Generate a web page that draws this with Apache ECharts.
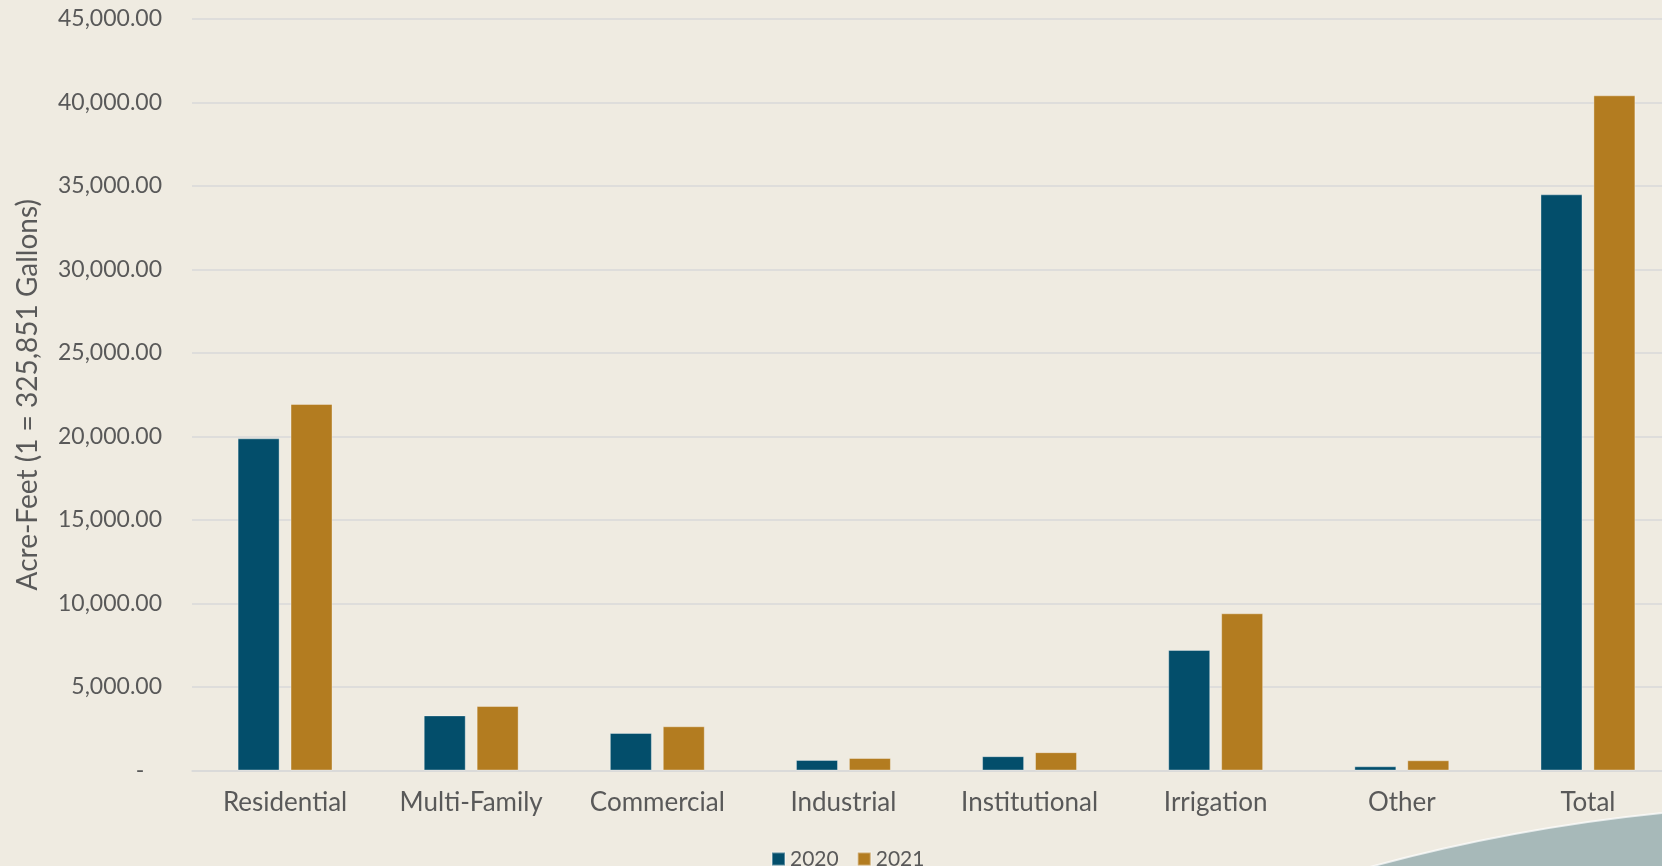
<!DOCTYPE html>
<html>
<head>
<meta charset="utf-8">
<script src="https://cdn.jsdelivr.net/npm/echarts@6/dist/echarts.min.js"></script>
<style>
html,body{margin:0;padding:0;background:#efebe1;}
#chart{width:1662px;height:866px;}
</style>
</head>
<body>
<div id="chart"></div>
<script>
const categories = ['Residential','Multi-Family','Commercial','Industrial','Institutional','Irrigation','Other','Total'];
const values2020 = [19890, 3300, 2245, 630, 856, 7216, 251, 34500];
const values2021 = [21950, 3860, 2647, 750, 1096, 9413, 611, 40430];
const seriesNames = ['2020','2021'];
const axisTitle = 'Acre-Feet (1 = 325,851 Gallons)';

const FONT = 'Lato';
const TXT = '#595959';
const chart = echarts.init(document.getElementById('chart'));
chart.setOption({
  backgroundColor: '#efebe1',
  animation: false,
  textStyle: { fontFamily: FONT, color: TXT },
  grid: { left: 192, top: 19, width: 1489, height: 751.5, containLabel: false, outerBoundsMode: 'none' },
  legend: {
    data: seriesNames,
    left: 766, top: 843.5,
    itemWidth: 13, itemHeight: 13, itemGap: 18,
    icon: 'rect',
    textStyle: { fontFamily: FONT, fontSize: 21, color: TXT }
  },
  xAxis: {
    type: 'category',
    data: categories,
    axisTick: { show: false },
    axisLine: { lineStyle: { color: '#d9d9d9', width: 1.5 } },
    axisLabel: { fontFamily: FONT, fontSize: 26, color: TXT, margin: 19, interval: 0 }
  },
  yAxis: {
    type: 'value',
    min: 0, max: 45000, interval: 5000,
    name: axisTitle,
    nameLocation: 'middle',
    nameGap: 150,
    nameTextStyle: { fontFamily: FONT, fontSize: 28, color: TXT },
    axisLine: { show: false },
    axisTick: { show: false },
    splitLine: { lineStyle: { color: '#d9d9d9', width: 1.5 } },
    axisLabel: {
      fontFamily: FONT, fontSize: 23, color: TXT, margin: 30,
      formatter: v => v === 0 ? '-   ' : v.toLocaleString('en-US', { minimumFractionDigits: 2, maximumFractionDigits: 2 })
    }
  },
  series: [
    {
      name: seriesNames[0], type: 'bar', data: values2020,
      barWidth: 42, barGap: '26%',
      itemStyle: { color: '#034e6b', borderColor: 'rgba(255,255,255,0.35)', borderWidth: 1 }
    },
    {
      name: seriesNames[1], type: 'bar', data: values2021,
      barWidth: 42, barGap: '26%',
      itemStyle: { color: '#b37c20', borderColor: 'rgba(255,255,255,0.35)', borderWidth: 1 }
    }
  ],
  graphic: [
    {
      type: 'circle', z: -1,
      shape: { cx: 1842, cy: 2604, r: 1800 },
      style: { fill: '#a7b9b9', stroke: 'rgba(255,255,255,0.7)', lineWidth: 2 }
    }
  ]
});
</script>
</body>
</html>
